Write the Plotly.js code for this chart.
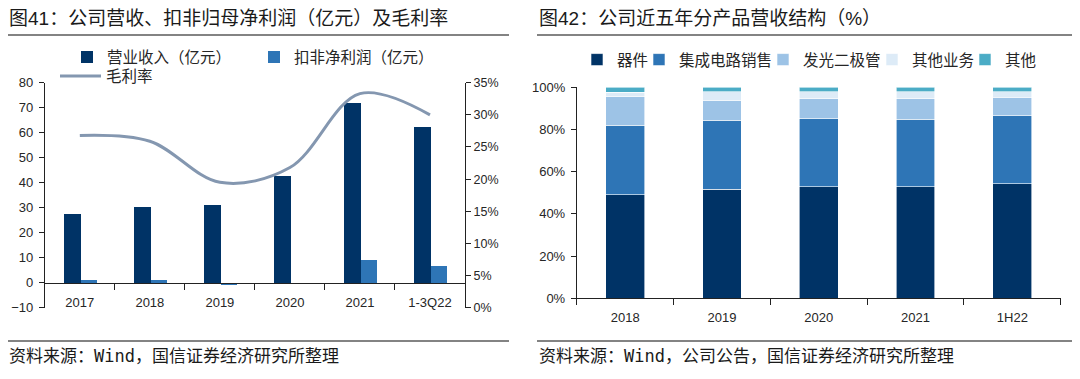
<!DOCTYPE html>
<html><head><meta charset="utf-8">
<script src="https://cdn.plot.ly/plotly-3.0.1.min.js"></script>
<style>html,body{margin:0;padding:0;background:#fff}#chart{width:1080px;height:379px}</style>
</head><body><div id="chart"></div>
<script>
// ---- Figure 41 data ----
const years41 = ['2017', '2018', '2019', '2020', '2021', '1-3Q22'];
const revenue = [27.4, 30.3, 31.2, 42.8, 71.8, 62.3];       // 营业收入（亿元）
const netProfit = [1.0, 0.9, -1.1, 0.0, 9.1, 6.8];          // 扣非净利润（亿元）
const grossMargin = [26.8, 25.9, 19.5, 21.8, 33.3, 30.0];   // 毛利率 (%)

// ---- Figure 42 data ----
const years42 = ['2018', '2019', '2020', '2021', '1H22'];
const devices = [49.0, 51.8, 52.9, 52.9, 54.2];   // 器件
const icSales = [33.1, 32.7, 32.1, 31.9, 32.4];   // 集成电路销售
const leds = [13.5, 9.2, 9.5, 9.7, 8.7];          // 发光二极管
const otherBiz = [2.0, 4.2, 3.4, 3.4, 2.5];       // 其他业务
const others = [2.4, 2.1, 2.1, 2.1, 2.2];         // 其他

const W = 1080, H = 379;
const px = v => v / W;
const py = v => 1 - v / H;

const CJK = 'Liberation Sans, Arial, Noto Sans CJK SC, sans-serif';
const TXT = '#262626';
const AX = '#222222';

const traces = [
  {type: 'bar', name: '营业收入（亿元）', x: years41, y: revenue, xaxis: 'x', yaxis: 'y',
   width: 0.235, offset: -0.225, marker: {color: '#003366'}, legend: 'legend'},
  {type: 'bar', name: '扣非净利润（亿元）', x: years41, y: netProfit, xaxis: 'x2', yaxis: 'y',
   width: 0.235, offset: 0.01, marker: {color: '#2E75B6'}, legend: 'legend2'},
  {type: 'scatter', mode: 'lines', name: '毛利率', x: years41, y: grossMargin, xaxis: 'x', yaxis: 'y2',
   line: {shape: 'spline', smoothing: 1, color: '#8497B0', width: 3}, legend: 'legend3'},
];

const series42 = [
  ['器件', devices, '#003366', 'legend4'],
  ['集成电路销售', icSales, '#2E75B6', 'legend5'],
  ['发光二极管', leds, '#9DC3E6', 'legend6'],
  ['其他业务', otherBiz, '#DDEBF7', 'legend7'],
  ['其他', others, '#4BACC6', 'legend8'],
];
series42.forEach(([name, vals, color, lg]) => {
  traces.push({type: 'bar', name: name, x: years42, y: vals, xaxis: 'x3', yaxis: 'y3',
    marker: {color: color, line: {color: '#ffffff', width: 0.6}}, legend: lg});
});

const legendBase = (x, y, extra) => Object.assign({
  x: px(x), y: py(y), xref: 'paper', yref: 'paper', xanchor: 'left', yanchor: 'middle',
  orientation: 'h', bgcolor: 'rgba(0,0,0,0)', borderwidth: 0,
  font: {family: CJK, size: 15.5, color: TXT}
}, extra || {});

const axisCommon = {
  showline: true, linecolor: AX, linewidth: 1, ticks: 'outside', tickcolor: AX, tickwidth: 1,
  showgrid: false, zeroline: false, fixedrange: true,
  tickfont: {family: 'Liberation Sans, Arial, sans-serif', size: 13, color: TXT}
};

const leftX = [44.8, 465], leftY = [82.7, 307.7];
const rightX = [576.8, 1060.7], rightY = [87.3, 298.3];
const zeroY = 282.7;

const layout = {
  width: W, height: H, margin: {l: 0, r: 0, t: 0, b: 0},
  paper_bgcolor: '#ffffff', plot_bgcolor: 'rgba(0,0,0,0)',
  barmode: 'stack', bargap: 0.6, showlegend: true,
  font: {family: CJK, size: 13, color: TXT},
  xaxis: Object.assign({}, axisCommon, {
    domain: [px(leftX[0]), px(leftX[1])], anchor: 'free', position: py(zeroY),
    type: 'category', categoryarray: years41, range: [-0.5, 5.5],
    tickson: 'boundaries', ticklen: 6, ticklabelstandoff: 8
  }),
  xaxis2: {overlaying: 'x', matches: 'x', visible: false, type: 'category', categoryarray: years41, range: [-0.5, 5.5], fixedrange: true},
  yaxis: Object.assign({}, axisCommon, {
    domain: [py(leftY[1]), py(leftY[0])], anchor: 'x', range: [-10, 80], tick0: 0, dtick: 10, ticklen: 5,
    ticklabelstandoff: 3
  }),
  yaxis2: Object.assign({}, axisCommon, {
    overlaying: 'y', side: 'right', anchor: 'x', range: [0, 35], tick0: 0, dtick: 5, ticksuffix: '%', ticklen: 5,
    tickfont: {family: 'Liberation Sans, Arial, sans-serif', size: 12.5, color: TXT}
  }),
  xaxis3: Object.assign({}, axisCommon, {
    domain: [px(rightX[0]), px(rightX[1])], anchor: 'y3', type: 'category', categoryarray: years42,
    range: [-0.5, 4.5], tickson: 'boundaries', ticklen: 6, ticklabelstandoff: 7
  }),
  yaxis3: Object.assign({}, axisCommon, {
    domain: [py(rightY[1]), py(rightY[0])], anchor: 'x3', range: [0, 100], tick0: 0, dtick: 20, ticksuffix: '%', ticklen: 5,
    ticklabelstandoff: 3
  }),
  legend: legendBase(67, 57.5),
  legend2: legendBase(254, 57.5),
  legend3: legendBase(55, 76.5, {itemwidth: 41}),
  legend4: legendBase(577, 60),
  legend5: legendBase(639, 60),
  legend6: legendBase(763, 60),
  legend7: legendBase(872, 60),
  legend8: legendBase(965, 60),
  shapes: [
    {type: 'line', xref: 'paper', yref: 'paper', x0: px(8), x1: px(509), y0: py(35), y1: py(35), line: {color: '#5a5a5a', width: 1.6}},
    {type: 'line', xref: 'paper', yref: 'paper', x0: px(537), x1: px(1072), y0: py(35), y1: py(35), line: {color: '#5a5a5a', width: 1.6}},
    {type: 'line', xref: 'paper', yref: 'paper', x0: px(8), x1: px(509), y0: py(341), y1: py(341), line: {color: '#5a5a5a', width: 1.6}},
    {type: 'line', xref: 'paper', yref: 'paper', x0: px(537), x1: px(1072), y0: py(341), y1: py(341), line: {color: '#5a5a5a', width: 1.6}}
  ],
  annotations: [
    {text: '图41：公司营收、扣非归母净利润（亿元）及毛利率', xref: 'paper', yref: 'paper', x: px(7), y: py(18.3),
     xanchor: 'left', yanchor: 'middle', showarrow: false, font: {family: CJK, size: 19, color: '#1a1a1a'}},
    {text: '图42：公司近五年分产品营收结构（%）', xref: 'paper', yref: 'paper', x: px(537), y: py(18.3),
     xanchor: 'left', yanchor: 'middle', showarrow: false, font: {family: CJK, size: 19, color: '#1a1a1a'}},
    {text: '资料来源：Wind，国信证券经济研究所整理', xref: 'paper', yref: 'paper', x: px(7), y: py(356),
     xanchor: 'left', yanchor: 'middle', showarrow: false, font: {family: 'DejaVu Sans Mono, Noto Sans CJK SC, monospace', size: 17, color: '#1a1a1a'}},
    {text: '资料来源：Wind，公司公告，国信证券经济研究所整理', xref: 'paper', yref: 'paper', x: px(537), y: py(356),
     xanchor: 'left', yanchor: 'middle', showarrow: false, font: {family: 'DejaVu Sans Mono, Noto Sans CJK SC, monospace', size: 17, color: '#1a1a1a'}}
  ]
};

Plotly.newPlot('chart', traces, layout, {displayModeBar: false, staticPlot: true});
</script>
</body></html>
